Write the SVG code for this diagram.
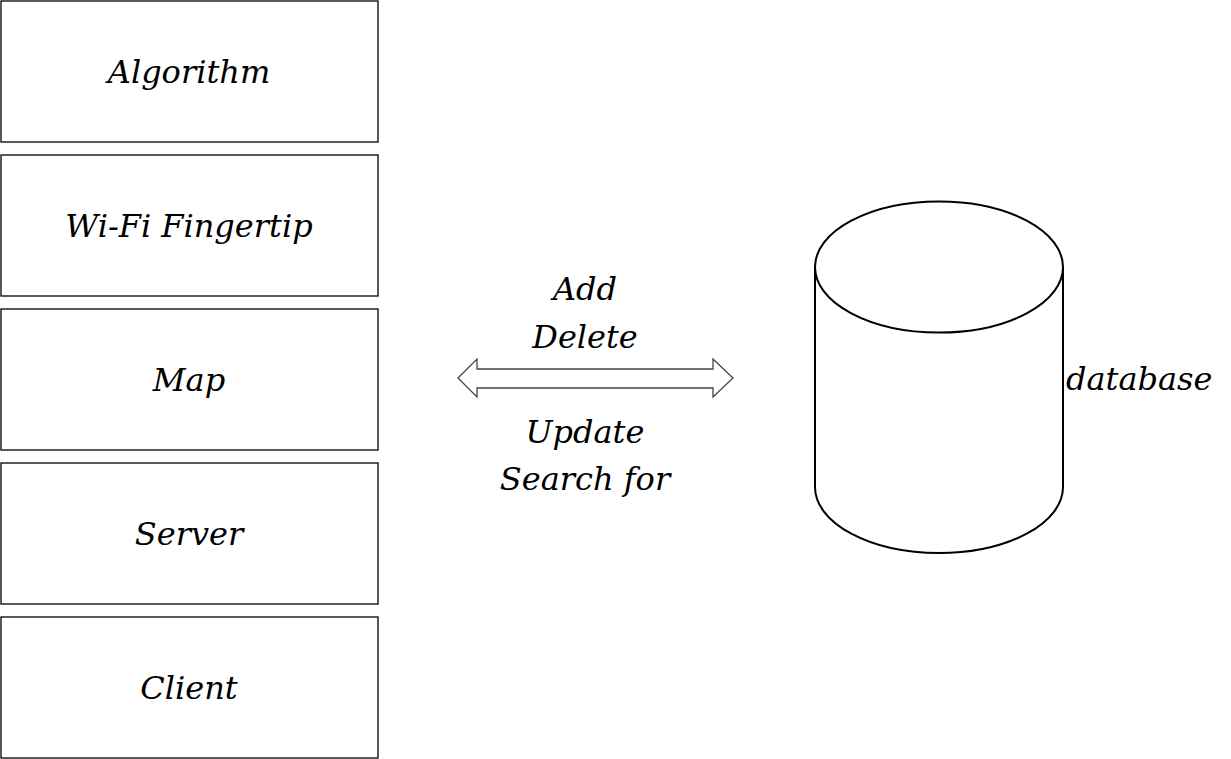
<svg xmlns="http://www.w3.org/2000/svg" width="1231" height="759" viewBox="0 0 1231 759">
<style>
.box{fill:#fff;stroke:#000;stroke-width:1.3}
.t{font-family:'DejaVu Serif',serif;font-style:italic;font-size:32px;fill:#000}
.c{text-anchor:middle}
.cyl{fill:#fff;stroke:#000;stroke-width:2}
</style>
<rect width="1231" height="759" fill="#fff"/>
<g id="algorithm"><rect class="box" x="1" y="1" width="377" height="141"/><text class="t c" x="189" y="83">Algorithm</text></g>
<g id="wifi"><rect class="box" x="1" y="155" width="377" height="141"/><text class="t c" x="189" y="237">Wi-Fi Fingertip</text></g>
<g id="map"><rect class="box" x="1" y="309" width="377" height="141"/><text class="t c" x="189" y="391">Map</text></g>
<g id="server"><rect class="box" x="1" y="463" width="377" height="141"/><text class="t c" x="189" y="545">Server</text></g>
<g id="client"><rect class="box" x="1" y="617" width="377" height="141"/><text class="t c" x="189" y="699">Client</text></g>
<g id="database">
<path class="cyl" d="M815,267 L815,487 A124,66 0 0 0 1063,487 L1063,267"/>
<ellipse class="cyl" cx="939" cy="267" rx="124" ry="65.5"/>
<text class="t" x="1066" y="390">database</text>
</g>
<g id="connectors">
<polygon points="458,378 477,359 477,369 713,369 713,359 733,378 713,397 713,388 477,388 477,397" fill="#fff" stroke="#444" stroke-width="1.3"/>
<text class="t c" x="585" y="300">Add</text>
<text class="t c" x="585" y="348">Delete</text>
<text class="t c" x="585" y="443">Update</text>
<text class="t c" x="585" y="490">Search for</text>
</g>
</svg>
